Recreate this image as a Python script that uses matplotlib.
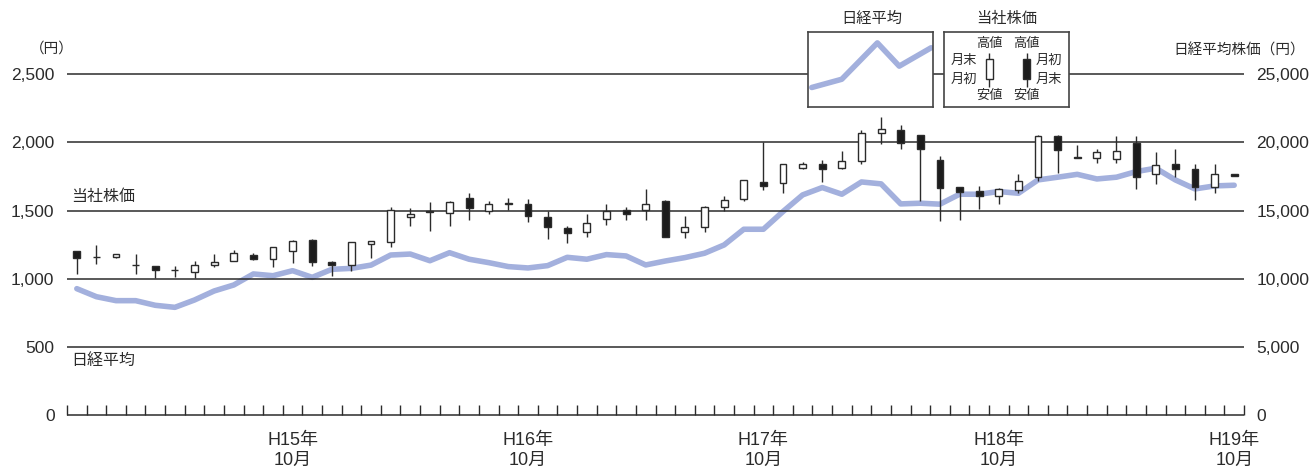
import matplotlib

matplotlib.use("Agg")

import matplotlib.pyplot as plt
import numpy as np

# ---- data (monthly, H14/11 .. H19/10) ----
open_px = [1200, 1160, 1158, 1104, 1090, 1067, 1047, 1098, 1127, 1176,
           1147, 1203, 1287, 1122, 1098, 1252, 1269, 1451, 1494, 1480,
           1595, 1500, 1549, 1551, 1456, 1370, 1346, 1441, 1502, 1502,
           1573, 1346, 1382, 1524, 1583, 1713, 1700, 1815, 1842, 1810,
           1864, 2067, 2092, 2053, 1872, 1671, 1644, 1610, 1651, 1749,
           2050, 1891, 1889, 1879, 1999, 1769, 1840, 1803, 1676, 1769]
high_px = [1205, 1248, 1185, 1179, 1095, 1095, 1127, 1179, 1208, 1186,
           1232, 1281, 1294, 1127, 1271, 1276, 1529, 1517, 1564, 1573,
           1627, 1573, 1590, 1588, 1500, 1390, 1473, 1549, 1524, 1659,
           1575, 1460, 1537, 1607, 1725, 2006, 1842, 1857, 1872, 1938,
           2091, 2189, 2128, 2055, 1901, 1673, 1681, 1663, 1769, 2053,
           2053, 1982, 1950, 2048, 2048, 1933, 1950, 1840, 1842, 1769]
low_px = [1035, 1106, 1150, 1037, 1002, 1015, 1002, 1083, 1127, 1137,
          1088, 1117, 1095, 1022, 1054, 1149, 1235, 1390, 1353, 1387,
          1431, 1475, 1505, 1414, 1295, 1265, 1304, 1395, 1431, 1431,
          1305, 1301, 1341, 1497, 1573, 1651, 1629, 1805, 1713, 1808,
          1840, 1986, 1950, 1571, 1424, 1431, 1512, 1549, 1632, 1717,
          1779, 1887, 1847, 1852, 1656, 1693, 1749, 1578, 1632, 1754]
close_px = [1150, 1157, 1180, 1101, 1062, 1064, 1100, 1120, 1186, 1147,
            1230, 1279, 1120, 1098, 1269, 1274, 1502, 1473, 1491, 1563,
            1517, 1551, 1555, 1460, 1377, 1338, 1407, 1500, 1478, 1551,
            1309, 1382, 1529, 1578, 1722, 1678, 1840, 1842, 1805, 1867,
            2067, 2099, 1999, 1955, 1668, 1639, 1610, 1661, 1720, 2050,
            1943, 1887, 1933, 1940, 1749, 1835, 1803, 1676, 1771, 1754]
nikkei = [9270, 8680, 8390, 8390, 8050, 7900, 8440, 9100, 9540, 10350,
          10220, 10590, 10100, 10690, 10760, 11000, 11740, 11810, 11320, 11910,
          11430, 11180, 10890, 10790, 10960, 11570, 11430, 11770, 11670, 11010,
          11300, 11550, 11870, 12480, 13630, 13630, 14930, 16150, 16690, 16200,
          17100, 16960, 15490, 15540, 15470, 16200, 16200, 16400, 16270, 17250,
          17450, 17660, 17320, 17450, 17860, 18110, 17250, 16590, 16810, 16860]

xtick_pos = [11, 23, 35, 47, 59]
xtick_labels = ["H15年\n10月", "H16年\n10月", "H17年\n10月", "H18年\n10月", "H19年\n10月"]
left_ticks = [0, 500, 1000, 1500, 2000, 2500]
right_ticks = [0, 5000, 10000, 15000, 20000, 25000]

INK = "#2b2b2b"
BLUE = "#a3b0dd"
FONTS = ["Liberation Sans", "Noto Sans CJK JP", "DejaVu Sans"]
JP = ["Noto Sans CJK JP", "DejaVu Sans"]
plt.rcParams["font.family"] = FONTS

W, H = 1311, 470
fig = plt.figure(figsize=(W / 100, H / 100), dpi=100)


def px_rect(x0, y0, x1, y1):
    return [x0 / W, (H - y1) / H, (x1 - x0) / W, (y1 - y0) / H]


ax_n = fig.add_axes(px_rect(67, 74.3, 1244, 415))
ax_c = ax_n.twinx()

n = len(open_px)
x = np.arange(n)
o = np.array(open_px, dtype=float)
c = np.array(close_px, dtype=float)

# Nikkei line (right scale)
ax_n.plot(x, nikkei, color=BLUE, lw=4.0, solid_capstyle="round", zorder=2)
ax_n.set_ylim(0, 25000)
ax_n.set_xlim(-0.5, n - 0.5)

# gridlines
ax_c.hlines(left_ticks, -0.5, n - 0.5, color=INK, lw=1.1, clip_on=False, zorder=1)

# candles (left scale)
up = c >= o
ax_c.vlines(x, low_px, high_px, color=INK, lw=1.0, zorder=3)
bottoms = np.minimum(o, c)
heights = np.maximum(np.abs(c - o), 2)
ax_c.bar(x[up], heights[up], bottom=bottoms[up], width=0.35,
         color="white", edgecolor=INK, linewidth=1.0, zorder=4)
ax_c.bar(x[~up], heights[~up], bottom=bottoms[~up], width=0.35,
         color="#1c1c1c", edgecolor=INK, linewidth=1.0, zorder=4)
ax_c.set_ylim(0, 2500)
ax_c.set_xlim(-0.5, n - 0.5)

for a in (ax_n, ax_c):
    for s in a.spines.values():
        s.set_visible(False)

# y tick labels
ax_c.yaxis.tick_left()
ax_c.set_yticks(left_ticks)
ax_c.set_yticklabels([f"{v:,}" for v in left_ticks])
ax_c.tick_params(axis="y", length=0, pad=9, labelsize=12.5, colors=INK)
ax_n.yaxis.tick_right()
ax_n.set_yticks(right_ticks)
ax_n.set_yticklabels([f"{v:,}" for v in right_ticks])
ax_n.tick_params(axis="y", length=0, pad=9, labelsize=12.5, colors=INK)

# x ticks (shared axis, drawn by ax_n): month boundaries as minor ticks
ax_n.set_xticks(np.arange(-0.5, n, 1.0), minor=True)
ax_n.set_xticks(xtick_pos)
ax_n.set_xticklabels(xtick_labels, fontsize=13, linespacing=1.25)
ax_n.tick_params(axis="x", which="major", length=0, pad=12, colors=INK)
ax_n.tick_params(axis="x", which="minor", direction="in", length=7, width=1.0, color=INK)

# inline labels
ax_c.text(-0.3, 1600, "当社株価", fontsize=11.5, family=JP, va="center", ha="left", color=INK)
ax_c.text(-0.3, 400, "日経平均", fontsize=11.5, family=JP, va="center", ha="left", color=INK)
fig.text(30 / W, 1 - 49 / H, "（円）", fontsize=10.5, family=JP, va="center", ha="left", color=INK)
fig.text(1305 / W, 1 - 51 / H, "日経平均株価（円）", fontsize=10.5, family=JP, va="center", ha="right", color=INK)

# legend: Nikkei
leg_line_x = [0.03, 0.27, 0.555, 0.73, 0.985]
leg_line_y = [0.26, 0.37, 0.855, 0.545, 0.79]
ax_l1 = fig.add_axes(px_rect(808, 32, 933, 107))
ax_l1.plot(leg_line_x, leg_line_y, color=BLUE, lw=4.0, solid_capstyle="round")
ax_l1.set_xlim(0, 1)
ax_l1.set_ylim(0, 1)
ax_l1.set_xticks([])
ax_l1.set_yticks([])
for s in ax_l1.spines.values():
    s.set_color("#444444")
    s.set_linewidth(1.2)
fig.text(871.7 / W, 1 - 18 / H, "日経平均", fontsize=11, family=JP, ha="center", va="center", color=INK)

# legend: candles
ax_l2 = fig.add_axes(px_rect(944, 32, 1069, 107))
ax_l2.set_xlim(0, 1)
ax_l2.set_ylim(0, 1)
ax_l2.set_xticks([])
ax_l2.set_yticks([])
for s in ax_l2.spines.values():
    s.set_color("#444444")
    s.set_linewidth(1.2)
for cx, fill in ((0.362, "white"), (0.662, "#1c1c1c")):
    ax_l2.vlines(cx, 0.263, 0.724, color=INK, lw=1.0)
    ax_l2.bar(cx, 0.265, bottom=0.371, width=0.054, color=fill, edgecolor=INK, linewidth=1.0, zorder=3)
    ax_l2.text(cx, 0.85, "高値", fontsize=9.5, family=JP, ha="center", va="center", color=INK)
    ax_l2.text(cx, 0.16, "安値", fontsize=9.5, family=JP, ha="center", va="center", color=INK)
ax_l2.text(0.162, 0.627, "月末", fontsize=9.5, family=JP, ha="center", va="center", color=INK)
ax_l2.text(0.162, 0.373, "月初", fontsize=9.5, family=JP, ha="center", va="center", color=INK)
ax_l2.text(0.842, 0.627, "月初", fontsize=9.5, family=JP, ha="center", va="center", color=INK)
ax_l2.text(0.842, 0.373, "月末", fontsize=9.5, family=JP, ha="center", va="center", color=INK)
fig.text(1007 / W, 1 - 18 / H, "当社株価", fontsize=11, family=JP, ha="center", va="center", color=INK)

fig.savefig("out.png", dpi=100, facecolor="white")
